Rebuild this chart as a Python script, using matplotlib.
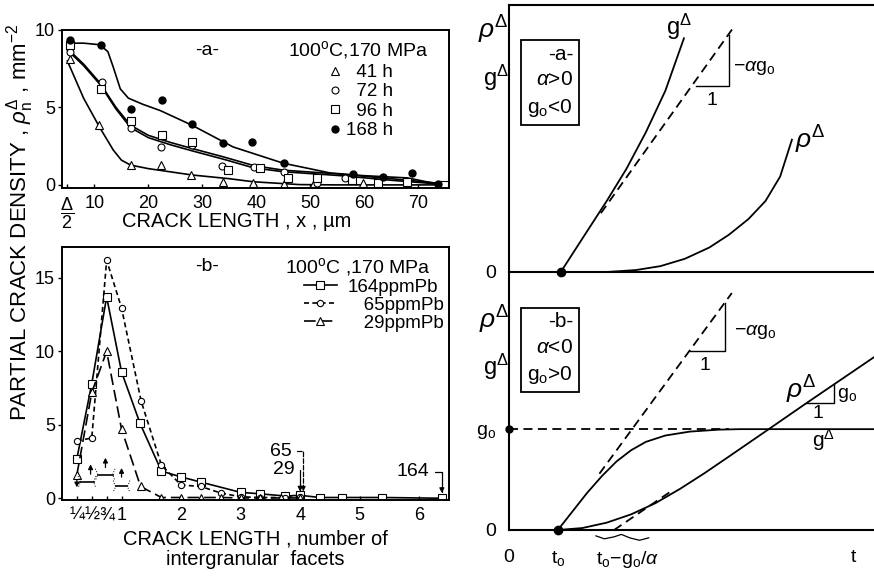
import numpy as np
import matplotlib
matplotlib.use("Agg")
import matplotlib.pyplot as plt

plt.rcParams['font.family'] = ['Liberation Sans', 'DejaVu Sans']
plt.rcParams['mathtext.fontset'] = 'custom'
plt.rcParams['mathtext.rm'] = 'Liberation Sans'
plt.rcParams['mathtext.it'] = 'Liberation Sans:italic'
plt.rcParams['mathtext.bf'] = 'Liberation Sans:bold'

# ---- panel a (left top): partial crack density vs crack length, x in um
a_x168 = [5.4, 11.3, 16.8, 22.6, 28.1, 33.8, 39.2, 45.1, 58.0, 63.5, 68.9, 73.7]
a_y168 = [9.36, 9.0, 4.9, 5.45, 3.9, 2.7, 2.75, 1.4, 0.7, 0.5, 0.75, 0.05]
a_x96 = [5.4, 11.2, 16.7, 22.6, 28.1, 34.7, 40.6, 45.8, 51.2, 57.8, 62.6, 68.0, 74.7]
a_y96 = [9.0, 6.2, 4.1, 3.25, 2.75, 0.95, 1.1, 0.45, 0.45, 0.32, 0.15, 0.2, 0.0]
a_x72 = [5.4, 11.4, 16.7, 22.4, 28.1, 33.7, 39.5, 45.1, 51.2, 56.5, 62.6, 68.0, 74.7]
a_y72 = [8.55, 6.67, 3.67, 2.45, 2.6, 1.2, 1.17, 0.85, 0.15, 0.45, 0.15, 0.2, 0.0]
a_x41 = [5.4, 10.9, 16.8, 22.4, 27.9, 33.8, 39.4, 45.1, 50.6, 59.7, 73.7]
a_y41 = [8.1, 3.85, 1.28, 1.28, 0.64, 0.2, 0.1, 0.05, 0.1, 0.1, 0.0]

# hand-drawn fit curves
fit168_x = [5, 8, 11, 12.5, 13.5, 14.8, 16.3, 19, 22.2, 28.1, 35.7, 45, 53.7, 59.8, 68, 73.7]
fit168_y = [9.15, 9.15, 9.05, 8.6, 7.6, 6.2, 5.6, 5.2, 4.8, 3.85, 2.45, 1.4, 0.77, 0.6, 0.45, 0.05]
fit96_x = [5, 8, 11, 14, 16.7, 20, 24, 28.1, 34, 39.5, 45, 55.5, 65, 74]
fit96_y = [8.8, 7.8, 6.6, 5.0, 3.85, 3.2, 2.75, 2.35, 1.8, 1.25, 0.95, 0.7, 0.4, 0.1]
fit72_x = [5, 8, 11, 14, 16.7, 20, 24, 28.1, 34, 39.5, 45, 55.5, 65, 74]
fit72_y = [8.7, 7.7, 6.5, 4.9, 3.7, 3.05, 2.6, 2.2, 1.65, 1.1, 0.85, 0.6, 0.3, 0.05]
fit41_x = [5, 8, 11, 13.5, 15, 16.7, 20, 28.1, 35, 39.5, 48, 55, 74]
fit41_y = [8.0, 5.6, 3.7, 2.25, 1.6, 1.28, 1.05, 0.64, 0.4, 0.2, 0.02, 0.0, 0.0]

a_ticks = [5, 10, 20, 30, 40, 50, 60, 70]
a_ticklabels = [r'$\dfrac{\Delta}{2}$', '10', '20', '30', '40', '50', '60', '70']

# ---- panel b (left bottom): crack length in number of facets
b_x164 = [0.25, 0.5, 0.75, 1.0, 1.31, 1.67, 2.0, 2.33, 3.0, 3.33, 3.75, 4.0, 4.33, 4.7, 5.37, 6.38]
b_y164 = [2.7, 7.8, 13.7, 8.6, 5.1, 1.85, 1.45, 1.1, 0.4, 0.3, 0.15, 0.2, 0.05, 0.05, 0.05, 0.0]
b_x65 = [0.25, 0.5, 0.75, 1.0, 1.33, 1.67, 2.0, 2.33, 2.67, 3.0, 3.33, 3.75, 4.0]
b_y65 = [3.9, 4.1, 16.2, 12.95, 6.6, 2.25, 0.9, 0.8, 0.35, 0.1, 0.05, 0.05, 0.1]
b_x29 = [0.25, 0.5, 0.75, 1.0, 1.32, 1.67, 2.0, 2.33, 2.67, 3.0, 3.33, 3.67, 4.0]
b_y29 = [1.6, 7.2, 10.0, 4.7, 0.8, 0.05, 0.05, 0.05, 0.05, 0.02, 0.02, 0.02, 0.02]
b_ticks = [0.25, 0.5, 0.75, 1, 2, 3, 4, 5, 6]
b_ticklabels = ['¼', '½', '¾', '1', '2', '3', '4', '5', '6']
# small detection-limit marks near the origin
b_seg_x0 = [0.31, 0.60, 0.90]
b_seg_x1 = [0.53, 0.85, 1.10]
b_seg_y = [1.1, 1.6, 0.8]
b_up_x = [0.48, 0.73, 1.0]
b_up_y0 = [1.45, 1.9, 1.25]
b_up_y1 = [2.5, 2.95, 2.25]

# ---- schematic panels (right), arbitrary units
t0 = 1.0
g0 = 2.06
# upper: alpha > 0, g0 < 0
ua_g_t = [1.06, 1.5, 2.0, 2.4, 2.8, 3.2, 3.58]
ua_g_y = [0.0, 0.68, 1.45, 2.1, 2.85, 3.7, 4.77]
ua_dash_t = [1.88, 4.60]
ua_dash_y = [1.20, 5.00]
ua_rho_t = [1.06, 2.0, 2.6, 3.1, 3.6, 4.1, 4.5, 4.9, 5.25, 5.55, 5.79]
ua_rho_y = [0.0, 0.0, 0.04, 0.12, 0.27, 0.5, 0.76, 1.08, 1.45, 1.95, 2.7]
ua_tri_t = [3.82, 4.50, 4.50]
ua_tri_y = [3.80, 3.80, 4.84]
# lower: alpha < 0, g0 > 0
lb_g_t = [1.0, 1.3, 1.6, 1.9, 2.2, 2.5, 2.8, 3.2, 3.7, 4.3, 4.73, 7.47]
lb_g_y = [0.0, 0.38, 0.76, 1.1, 1.4, 1.63, 1.8, 1.93, 2.01, 2.05, g0, g0]
lb_rho_t = [1.0, 1.5, 2.0, 2.5, 3.0, 3.5, 4.0, 4.5, 5.2, 6.1, 7.47]
lb_rho_y = [0.0, 0.04, 0.15, 0.32, 0.55, 0.84, 1.16, 1.5, 1.98, 2.6, 3.53]
lb_gdash_t = [1.85, 4.56]
lb_gdash_y = [1.15, 4.84]
lb_rdash_t = [2.15, 3.3]
lb_rdash_y = [0.0, 0.78]
lb_g0_t = [0.0, 4.5]
lb_tri1_t = [3.71, 4.43, 4.43]
lb_tri1_y = [3.66, 3.66, 4.63]
lb_tri2_t = [6.10, 6.66, 6.66]
lb_tri2_y = [2.60, 2.60, 2.99]
lb_wave_t = [1.78, 1.95, 2.15, 2.30, 2.47, 2.67, 2.86]
lb_wave_y = [-0.12, -0.18, -0.14, -0.09, -0.16, -0.21, -0.16]

fig = plt.figure(figsize=(8.74, 5.76), dpi=100)

axa = fig.add_axes([62/874, 1-188/576, 387/874, 158/576])
axb = fig.add_axes([62/874, 1-500/576, 387/874, 253/576])
axr1 = fig.add_axes([509/874, 1-272/576, 365/874, 267/576])
axr2 = fig.add_axes([509/874, 1-530/576, 365/874, 258/576])

k = 'black'
for ax in (axa, axb):
    for s in ax.spines.values():
        s.set_linewidth(1.4)
    ax.tick_params(axis='x', direction='in', length=3, width=1, labelsize=13, pad=5)
    ax.tick_params(axis='y', direction='out', length=3, width=1, labelsize=13, pad=2)

# panel a
axa.plot(fit168_x, fit168_y, color=k, lw=1.2)
axa.plot(fit96_x, fit96_y, color=k, lw=1.2)
axa.plot(fit72_x, fit72_y, color=k, lw=1.2)
axa.plot(fit41_x, fit41_y, color=k, lw=1.2)
axa.plot(a_x41, a_y41, '^', ms=6, mfc='white', mec=k, mew=0.8, label='\u200741 h')
axa.plot(a_x72, a_y72, 'o', ms=5, mfc='white', mec=k, mew=0.8, label='\u200772 h')
axa.plot(a_x96, a_y96, 's', ms=6, mfc='white', mec=k, mew=0.8, label='\u200796 h')
axa.plot(a_x168, a_y168, 'o', ms=5, color=k, label='168 h')
axa.set_xlim(4.0, 75.7)
axa.set_ylim(-0.2, 10.0)
axa.set_xticks(a_ticks)
axa.set_xticklabels(a_ticklabels)
axa.set_yticks([0, 5, 10])
axa.set_xlabel('CRACK LENGTH , x , µm', fontsize=14.5)
axa.xaxis.set_label_coords(0.452, -0.15)
axa.text(0.375, 0.873, '-a-', transform=axa.transAxes, ha='center', va='center', fontsize=14)
axa.text(0.765, 0.873, '100$^{\\rm o}$C,170 MPa', transform=axa.transAxes,
         ha='center', va='center', fontsize=14)
axa.legend(loc='upper left', bbox_to_anchor=(0.685, 0.785), frameon=False, fontsize=13.5,
           handlelength=0.8, handletextpad=0.2, labelspacing=0.12, borderpad=0,
           borderaxespad=0)

# panel b
axb.plot(b_x164, b_y164, '-s', color=k, lw=1.2, ms=6, mfc='white', mec=k, mew=0.8,
         label='164ppmPb')
axb.plot(b_x65, b_y65, '--o', color=k, lw=1.2, dashes=(3, 2), ms=4.5, mfc='white',
         mec=k, mew=0.8, label='\u2007 65ppmPb')
axb.plot(b_x29, b_y29, '--^', color=k, lw=1.2, dashes=(7, 3), ms=6, mfc='white',
         mec=k, mew=0.8, label='\u2007 29ppmPb')
for x0, x1, y in zip(b_seg_x0, b_seg_x1, b_seg_y):
    axb.plot([x0, x1], [y, y], color=k, lw=1.2)
    axb.plot([x0 - 0.04, x0, x0 - 0.04], [y + 0.4, y, y - 0.4], color=k, lw=0.7, ls=':')
    axb.plot([x1 + 0.04, x1, x1 + 0.04], [y + 0.4, y, y - 0.4], color=k, lw=0.7, ls=':')
for x, y0, y1 in zip(b_up_x, b_up_y0, b_up_y1):
    axb.annotate('', xy=(x, y1), xytext=(x, y0),
                 arrowprops=dict(arrowstyle='-|>', color=k, lw=0.9, mutation_scale=7))
axb.annotate('', xy=(0.25, 0.55), xytext=(0.25, 1.45),
             arrowprops=dict(arrowstyle='-|>', color=k, lw=0.9, mutation_scale=7))
axb.annotate('65', xy=(4.05, 0.45), xytext=(3.67, 3.2), fontsize=14, ha='center', va='center',
             arrowprops=dict(arrowstyle='-|>', color=k, lw=0.9, ls='--', mutation_scale=7,
                             connectionstyle='angle,angleA=0,angleB=90,rad=0',
                             shrinkA=2, shrinkB=0))
axb.annotate('29', xy=(4.0, 0.45), xytext=(3.72, 1.93), fontsize=14, ha='center', va='center',
             arrowprops=dict(arrowstyle='-|>', color=k, lw=0.9, mutation_scale=7,
                             connectionstyle='angle,angleA=0,angleB=90,rad=0',
                             shrinkA=2, shrinkB=0))
axb.annotate('164', xy=(6.38, 0.35), xytext=(5.89, 1.8), fontsize=14, ha='center', va='center',
             arrowprops=dict(arrowstyle='-|>', color=k, lw=0.9, mutation_scale=7,
                             connectionstyle='angle,angleA=0,angleB=90,rad=0',
                             shrinkA=2, shrinkB=0))
axb.set_xlim(0.0, 6.5)
axb.set_ylim(-0.12, 17.1)
axb.set_xticks(b_ticks)
axb.set_xticklabels(b_ticklabels)
for lab in axb.get_xticklabels()[:3]:
    lab.set_fontsize(13)
axb.set_yticks([0, 5, 10, 15])
axb.set_xlabel('CRACK LENGTH , number of\nintergranular  facets', fontsize=14.5,
               linespacing=1.1)
axb.xaxis.set_label_coords(0.5, -0.115)
axb.text(0.375, 0.921, '-b-', transform=axb.transAxes, ha='center', va='center', fontsize=14)
axb.text(0.765, 0.921, '100$^{\\rm o}$C ,170 MPa', transform=axb.transAxes,
         ha='center', va='center', fontsize=14)
axb.legend(loc='upper left', bbox_to_anchor=(0.625, 0.875), frameon=False, fontsize=13.5,
           handlelength=1.75, handletextpad=0.6, labelspacing=0.05, borderpad=0,
           borderaxespad=0)

fig.text(20/874, 1-222/576, 'PARTIAL CRACK DENSITY , $\\rho_{\\rm n}^{\\Delta}$ , mm$^{-2}$',
         rotation=90, ha='center', va='center', fontsize=16)

# right panels
for ax in (axr1, axr2):
    ax.set_xlim(0, 7.47)
    ax.patch.set_visible(False)
    ax.spines['right'].set_visible(False)
    for s in ax.spines.values():
        s.set_linewidth(1.5)
    ax.tick_params(length=0, labelsize=14)
axr2.spines['top'].set_visible(False)
axr1.set_ylim(0, 5.45)
axr2.set_ylim(0, 5.27)

axr1.plot(ua_g_t, ua_g_y, color=k, lw=1.3)
axr1.plot(ua_dash_t, ua_dash_y, color=k, lw=1.3, ls=(0, (5, 3)))
axr1.plot(ua_rho_t, ua_rho_y, color=k, lw=1.3)
axr1.plot(ua_tri_t, ua_tri_y, color=k, lw=1.0)
axr1.plot([ua_g_t[0]], [0], 'o', color=k, ms=6, clip_on=False)
axr1.text(3.48, 5.0, 'g$^{\\Delta}$', fontsize=17, ha='center', va='center')
axr1.text(4.58, 4.16, '$-\\alpha$g$_{\\rm o}$', fontsize=14, ha='left', va='center')
axr1.text(4.16, 3.5, '1', fontsize=14, ha='center', va='center')
axr1.text(6.16, 2.69, '$\\rho^{\\Delta}$', fontsize=19, ha='center', va='center')
axr1.text(1.31, 4.64, '-a-\n$\\alpha$>0\ng$_{\\rm o}$<0', fontsize=15, ha='right', va='top',
          linespacing=1.45,
          bbox=dict(boxstyle='square,pad=0.3', fc='white', ec=k, lw=1.3))
axr1.set_xticks([])
axr1.set_yticks([0])
axr1.set_yticklabels(['0'])
axr1.tick_params(axis='y', pad=9)
axr1.text(-0.044, 0.906, '$\\rho^{\\Delta}$', transform=axr1.transAxes, fontsize=19,
          ha='center', va='center')
axr1.text(-0.035, 0.727, 'g$^{\\Delta}$', transform=axr1.transAxes, fontsize=17,
          ha='center', va='center')

axr2.plot(lb_g0_t, [g0, g0], color=k, lw=1.3, ls=(0, (5, 3)))
axr2.plot(lb_g_t, lb_g_y, color=k, lw=1.3)
axr2.plot(lb_rho_t, lb_rho_y, color=k, lw=1.3)
axr2.plot(lb_gdash_t, lb_gdash_y, color=k, lw=1.3, ls=(0, (5, 3)))
axr2.plot(lb_rdash_t, lb_rdash_y, color=k, lw=1.3, ls=(0, (5, 3)))
axr2.plot(lb_tri1_t, lb_tri1_y, color=k, lw=1.0)
axr2.plot(lb_tri2_t, lb_tri2_y, color=k, lw=1.0)
axr2.plot(lb_wave_t, lb_wave_y, color=k, lw=0.9, clip_on=False)
axr2.plot([t0], [0], 'o', color=k, ms=6, clip_on=False)
axr2.plot([0], [g0], 'o', color=k, ms=5, clip_on=False)
axr2.text(4.6, 4.05, '$-\\alpha$g$_{\\rm o}$', fontsize=14, ha='left', va='center')
axr2.text(4.02, 3.37, '1', fontsize=14, ha='center', va='center')
axr2.text(5.99, 2.86, '$\\rho^{\\Delta}$', fontsize=19, ha='center', va='center')
axr2.text(6.72, 2.76, 'g$_{\\rm o}$', fontsize=14, ha='left', va='center')
axr2.text(6.33, 2.38, '1', fontsize=14, ha='center', va='center')
axr2.text(6.43, 1.84, 'g$^{\\Delta}$', fontsize=15, ha='center', va='center')
axr2.text(1.31, 4.45, '-b-\n$\\alpha$<0\ng$_{\\rm o}$>0', fontsize=15, ha='right', va='top',
          linespacing=1.45,
          bbox=dict(boxstyle='square,pad=0.3', fc='white', ec=k, lw=1.3))
axr2.set_xticks([0, t0, 2.43, 7.04])
axr2.set_xticklabels(['0', 't$_{\\rm o}$', 't$_{\\rm o}$$-$g$_{\\rm o}$/$\\alpha$', 't'])
axr2.set_yticks([0, g0])
axr2.set_yticklabels(['0', 'g$_{\\rm o}$'])
axr2.tick_params(axis='x', pad=14)
axr2.tick_params(axis='y', pad=9)
axr2.text(-0.04, 0.814, '$\\rho^{\\Delta}$', transform=axr2.transAxes, fontsize=19,
          ha='center', va='center')
axr2.text(-0.035, 0.632, 'g$^{\\Delta}$', transform=axr2.transAxes, fontsize=17,
          ha='center', va='center')

fig.savefig('out.png', dpi=100)
